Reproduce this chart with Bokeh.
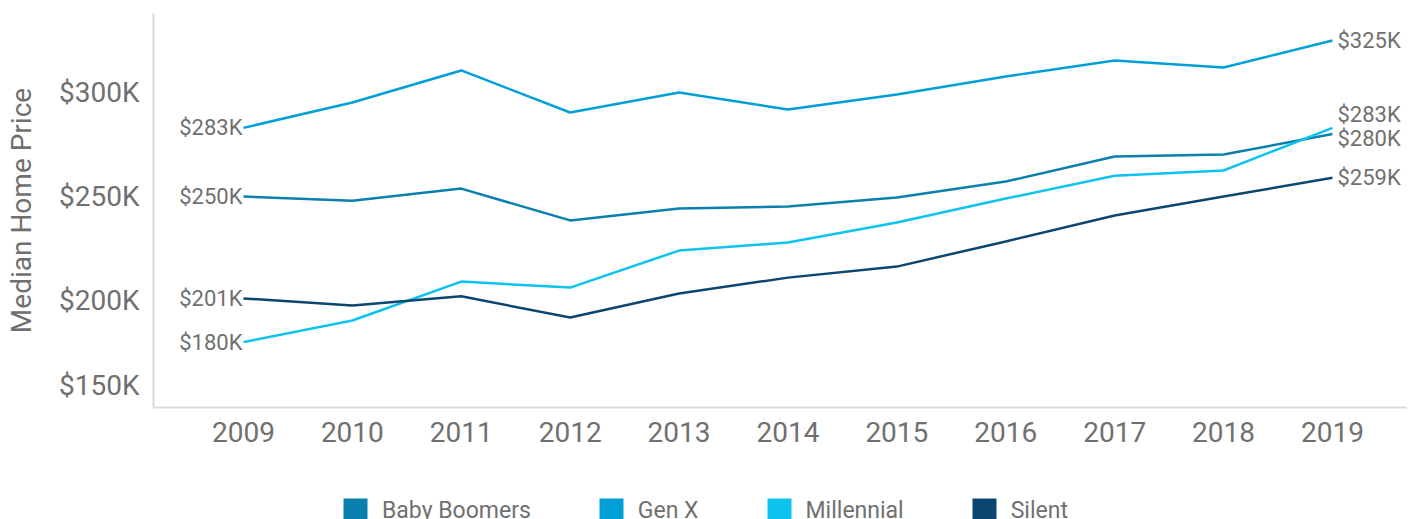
from bokeh.plotting import figure
from bokeh.layouts import column
from bokeh.models import (ColumnDataSource, LabelSet, Legend, LegendItem,
                          FixedTicker, CustomJSTickFormatter, Range1d)
from bokeh.core.properties import value
from bokeh.embed import file_html
from bokeh.resources import INLINE

# ---- data ----
years = [2009, 2010, 2011, 2012, 2013, 2014, 2015, 2016, 2017, 2018, 2019]
baby_boomers = [250, 248, 253.8, 238.5, 244.2, 245.2, 249.5, 257.2, 269.2, 270.2, 280]
gen_x = [283, 295.2, 310.6, 290.4, 300, 291.8, 299, 307.7, 315.4, 312, 325]
millennial = [180, 190.4, 209.1, 206.2, 224, 227.9, 237.5, 249, 260, 262.5, 283]
silent = [201, 197.6, 202, 191.8, 203.4, 211, 216.3, 228.4, 240.9, 250, 259]

series_names = ["Baby Boomers", "Gen X", "Millennial", "Silent"]
series_values = [baby_boomers, gen_x, millennial, silent]
colors = ["#0B7FAD", "#009FD7", "#0CC3EE", "#0B4670"]

x_tick_labels = [str(y) for y in years]
y_ticks = [159.1, 200, 250, 300]
y_tick_labels = ["$150K", "$200K", "$250K", "$300K"]

# end-label vertical nudges (screen px, up positive) to avoid overlap
end_label_nudge = [-4, 0, 13, 0]

GRAY = "#707070"
FONT = "Roboto"

p = figure(width=1421, height=470, output_backend="svg", toolbar_location=None,
           x_range=Range1d(2008.174, 2019.680), y_range=Range1d(148.56, 337.98),
           min_border_left=153, min_border_right=15, min_border_top=13,
           min_border_bottom=63)
p.outline_line_color = None
p.xgrid.visible = False
p.ygrid.visible = False
p.background_fill_color = "white"
p.border_fill_color = "white"

for name, vals, col in zip(series_names, series_values, colors):
    src = ColumnDataSource(dict(x=years, y=vals))
    p.line("x", "y", source=src, line_color=col, line_width=2.5)

# axes
p.xaxis.ticker = FixedTicker(ticks=years)
p.xaxis.major_label_overrides = {y: s for y, s in zip(years, x_tick_labels)}
p.yaxis.ticker = FixedTicker(ticks=y_ticks)
p.yaxis.formatter = CustomJSTickFormatter(args=dict(labels=y_tick_labels),
                                          code="return labels[index];")
for ax in (p.xaxis[0], p.yaxis[0]):
    ax.axis_line_color = "#d9d9d9"
    ax.axis_line_width = 2
    ax.major_tick_line_color = None
    ax.minor_tick_line_color = None
    ax.major_label_text_font = FONT
    ax.major_label_text_font_size = "28px"
    ax.major_label_text_color = GRAY
p.xaxis.major_label_standoff = 8
p.yaxis.major_label_standoff = 8
p.yaxis.axis_label = "Median Home Price"
p.yaxis.axis_label_text_font = FONT
p.yaxis.axis_label_text_font_size = "28px"
p.yaxis.axis_label_text_font_style = "normal"
p.yaxis.axis_label_text_color = GRAY
p.yaxis.axis_label_standoff = 18

# start / end value labels
start_src = ColumnDataSource(dict(
    x=[years[0]] * len(series_values),
    y=[v[0] for v in series_values],
    t=["$%dK" % round(v[0]) for v in series_values]))
end_src = ColumnDataSource(dict(
    x=[years[-1]] * len(series_values),
    y=[v[-1] for v in series_values],
    t=["$%dK" % round(v[-1]) for v in series_values],
    dy=end_label_nudge))
p.add_layout(LabelSet(x="x", y="y", text="t", source=start_src, x_offset=-1,
                      text_align="right", text_baseline="middle",
                      text_font=value(FONT), text_font_size=value("22px"),
                      text_color=GRAY))
p.add_layout(LabelSet(x="x", y="y", text="t", source=end_src, x_offset=5, y_offset="dy",
                      text_align="left", text_baseline="middle",
                      text_font=value(FONT), text_font_size=value("22px"),
                      text_color=GRAY))

# legend strip (separate figure so it is not clipped by the main frame)
lf = figure(width=1421, height=49, output_backend="svg", toolbar_location=None,
            x_range=Range1d(0, 1), y_range=Range1d(0, 1),
            x_axis_type=None, y_axis_type=None,
            min_border_left=0, min_border_right=0, min_border_top=0, min_border_bottom=0)
lf.outline_line_color = None
lf.xgrid.visible = False
lf.ygrid.visible = False

nan = float("nan")
items = []
for name, col in zip(series_names, colors):
    r = lf.quad(left=[nan], right=[nan], top=[nan], bottom=[nan],
                fill_color=col, line_color=None)
    items.append(LegendItem(label=name, renderers=[r]))
legend = Legend(items=items, orientation="horizontal", location=(187, -6),
                glyph_width=30, glyph_height=30, label_standoff=12, spacing=65,
                padding=0, margin=0, border_line_color=None,
                background_fill_alpha=0,
                label_text_font=FONT, label_text_font_size="23px",
                label_text_color=GRAY)
lf.add_layout(legend, "center")

layout = column(p, lf, spacing=0)
open("out.html", "w").write(file_html(layout, INLINE))
